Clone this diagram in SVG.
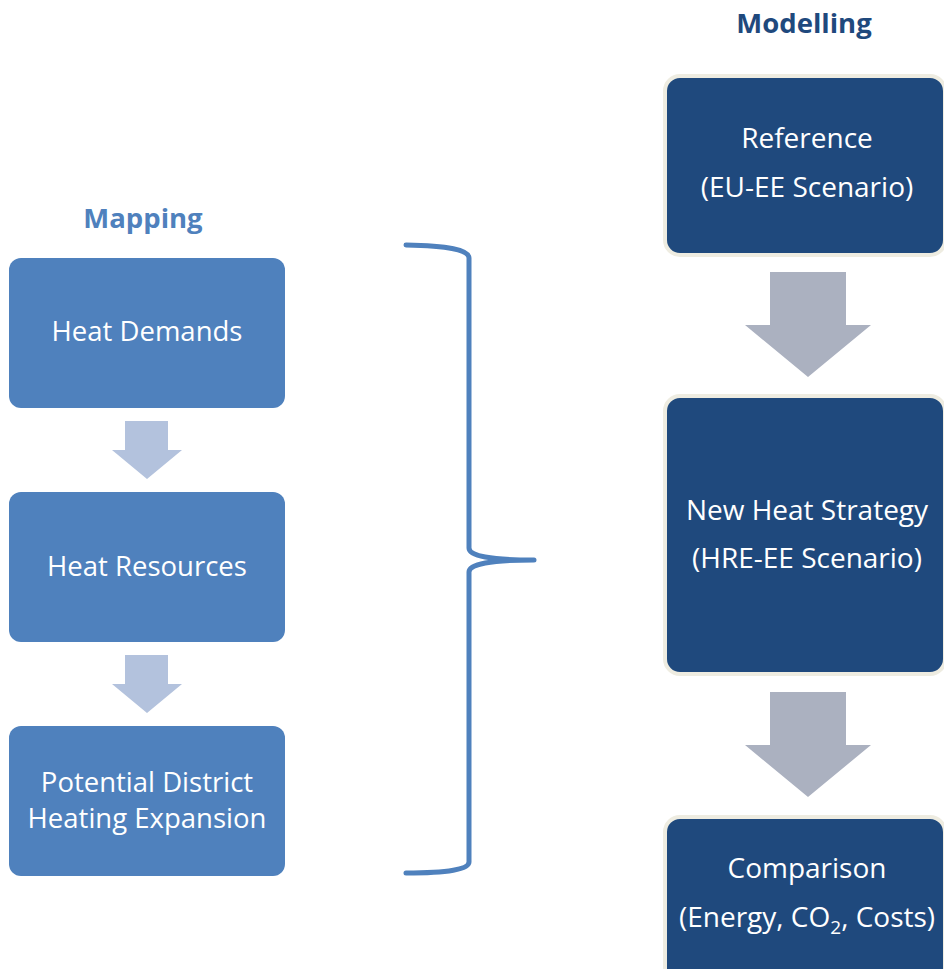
<svg xmlns="http://www.w3.org/2000/svg" width="944" height="969" viewBox="0 0 944 969">
<style>
.lbox{fill:#4F81BD}
.rbox{fill:#1F497D;stroke:#EEECE1;stroke-width:4}
.lt{font-family:"Open Sans","Liberation Sans",sans-serif;font-size:27.5px;fill:#FFFFFF;text-anchor:middle}
.rt{font-family:"Open Sans","Liberation Sans",sans-serif;font-size:28px;fill:#FFFFFF;text-anchor:middle}
.h{font-family:"Open Sans","Liberation Sans",sans-serif;font-size:27.5px;font-weight:bold;text-anchor:middle}
.sa{fill:#B3C2DD}
.ba{fill:#ABB1C0}
</style>
<rect width="944" height="969" fill="#FFFFFF"/>
<text class="h" x="143" y="228" fill="#4F81BD">Mapping</text>
<text class="h" x="804" y="33" fill="#1F497D">Modelling</text>
<g id="heat-demands">
<rect class="lbox" x="9" y="258" width="276" height="150" rx="12"/>
<text class="lt" x="147" y="341">Heat Demands</text>
</g>
<g id="heat-resources">
<rect class="lbox" x="9" y="492" width="276" height="150" rx="12"/>
<text class="lt" x="147" y="576">Heat Resources</text>
</g>
<g id="potential-dh">
<rect class="lbox" x="9" y="726" width="276" height="150" rx="12"/>
<text class="lt" x="147" y="792">Potential District</text>
<text class="lt" x="147" y="828">Heating Expansion</text>
</g>
<g id="reference">
<rect class="rbox" x="665" y="76" width="280" height="179" rx="15"/>
<text class="rt" x="807" y="148">Reference</text>
<text class="rt" x="807" y="197">(EU-EE Scenario)</text>
</g>
<g id="new-heat-strategy">
<rect class="rbox" x="665" y="396" width="280" height="278" rx="15"/>
<text class="rt" x="807" y="520">New Heat Strategy</text>
<text class="rt" x="807" y="568">(HRE-EE Scenario)</text>
</g>
<g id="comparison">
<rect class="rbox" x="665" y="817" width="280" height="170" rx="15"/>
<text class="rt" x="807" y="878">Comparison</text>
<text class="rt" x="807" y="927">(Energy, CO<tspan font-size="19" dy="7">2</tspan><tspan dy="-7">, Costs)</tspan></text>
</g>
<g id="connectors">
<polygon class="sa" points="125,421 168,421 168,450 182,450 147,479 112,450 125,450"/>
<polygon class="sa" points="125,655 168,655 168,684 182,684 147,713 112,684 125,684"/>
<polygon class="ba" points="770,272 846,272 846,325 871,325 808,377 745,325 770,325"/>
<polygon class="ba" points="770,692 846,692 846,745 871,745 808,797 745,745 770,745"/>
<path d="M406,245 Q469,246 469,258 L469,548 Q469,560 534,560 Q469,560 469,572 L469,862 Q469,873 406,873" fill="none" stroke="#4F81BD" stroke-width="5" stroke-linecap="round" stroke-linejoin="round"/>
</g>
</svg>
